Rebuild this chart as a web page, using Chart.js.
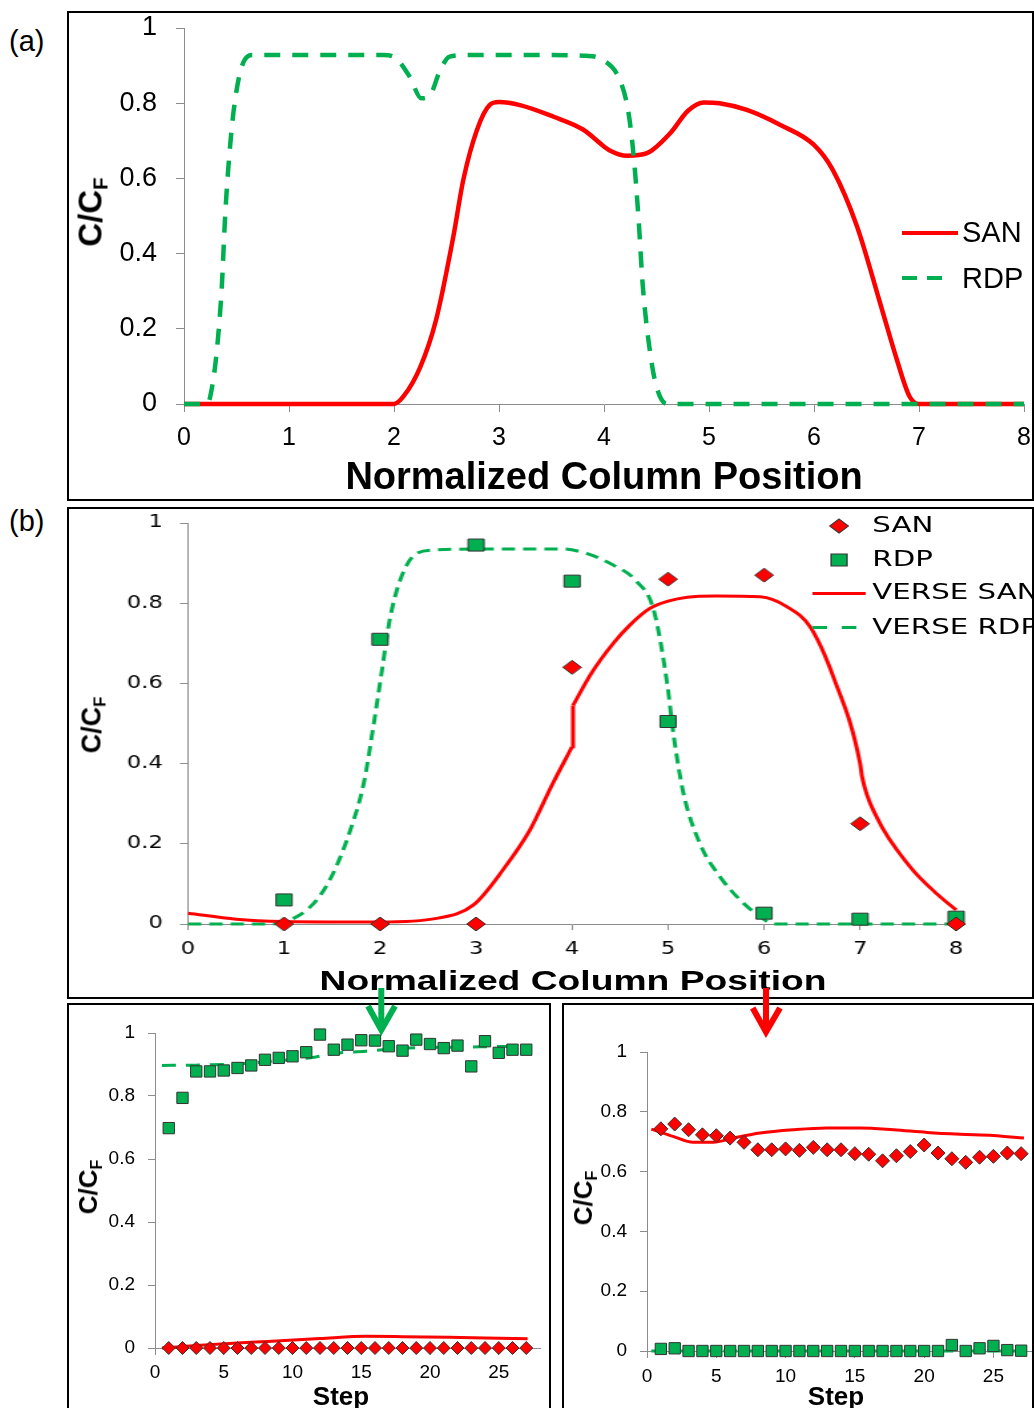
<!DOCTYPE html>
<html lang="en">
<head>
<meta charset="UTF-8">
<title>SAN / RDP column profiles</title>
<script src="https://cdn.jsdelivr.net/npm/chart.js"></script>
<style>
  html, body { margin: 0; padding: 0; background: #fff; }
  body { width: 1034px; height: 1408px; position: relative; overflow: hidden; font-family: "Liberation Sans", Arial, sans-serif; color: #000; }
  .box { position: absolute; border: 2px solid #000; box-sizing: border-box; overflow: hidden; }
  .box canvas { position: absolute; left: 0; top: 0; }
  /* panel (b) is drawn narrow and widened */
  .stretch { position: absolute; left: 0; top: 0; height: 100%; transform-origin: 0 0; transform: scaleX(1.33); }
  .tag { position: absolute; font-size: 29px; line-height: 1; }
  .ytitle { position: absolute; font-weight: bold; white-space: nowrap; line-height: 1; transform: translate(-50%, -50%) rotate(-90deg); }
  .ytitle sub { font-size: 0.62em; vertical-align: baseline; position: relative; top: 0.28em; }
  .xtitle { position: absolute; font-weight: bold; white-space: nowrap; line-height: 1; transform: translate(-50%, -50%); }
  .leg { position: absolute; white-space: nowrap; line-height: 1; }
  svg.sw { position: absolute; overflow: visible; }
</style>
</head>
<body>

<div class="tag" style="left:9px;top:27px">(a)</div>
<div class="tag" style="left:9px;top:507px">(b)</div>

<!-- (a) -->
<div class="box" style="left:67px;top:11px;width:967px;height:490px">
  <canvas id="chartA" width="963" height="486"></canvas>
</div>
<div class="ytitle" style="left:90px;top:212px;font-size:33px">C/C<sub>F</sub></div>
<div class="xtitle" style="left:604px;top:476px;font-size:38px">Normalized Column Position</div>
<svg class="sw" style="left:902px;top:231px" width="56" height="4"><line x1="0" y1="2" x2="56" y2="2" stroke="#ff0000" stroke-width="4"/></svg>
<svg class="sw" style="left:902px;top:276px" width="56" height="4"><line x1="0" y1="2" x2="44" y2="2" stroke="#00b050" stroke-width="4" stroke-dasharray="15 10"/></svg>
<div class="leg" style="left:962px;top:218px;font-size:29px">SAN</div>
<div class="leg" style="left:962px;top:264px;font-size:29px">RDP</div>

<!-- (b) -->
<div class="box" style="left:67px;top:507px;width:967px;height:492px">
  <div class="stretch" style="width:724px">
    <canvas id="chartB" width="724" height="488"></canvas>
    <div class="xtitle" style="left:379px;top:472px;font-size:28px">Normalized Column Position</div>
    <svg class="sw" style="left:572px;top:10px" width="14" height="14"><polygon points="7,0 14,7 7,14 0,7" fill="#ff0000" stroke="#333" stroke-width="1"/></svg>
    <svg class="sw" style="left:573px;top:45px" width="12" height="12"><rect x="0" y="0" width="12" height="12" fill="#00b050" stroke="#333" stroke-width="1"/></svg>
    <svg class="sw" style="left:559px;top:83px" width="40" height="3"><line x1="0" y1="1.5" x2="40" y2="1.5" stroke="#ff0000" stroke-width="3"/></svg>
    <svg class="sw" style="left:559px;top:117px" width="40" height="3"><line x1="0" y1="1.5" x2="33" y2="1.5" stroke="#00b050" stroke-width="3" stroke-dasharray="11 11"/></svg>
    <div class="leg" style="left:604px;top:5px;font-size:22px;font-family:'DejaVu Sans',sans-serif">SAN</div>
    <div class="leg" style="left:604px;top:39px;font-size:22px;font-family:'DejaVu Sans',sans-serif">RDP</div>
    <div class="leg" style="left:604px;top:72px;font-size:22px;font-family:'DejaVu Sans',sans-serif">VERSE SAN</div>
    <div class="leg" style="left:604px;top:107px;font-size:22px;font-family:'DejaVu Sans',sans-serif">VERSE RDP</div>
  </div>
</div>
<div class="ytitle" style="left:92px;top:725px;font-size:27px">C/C<sub>F</sub></div>

<!-- step histories -->
<div class="box" style="left:67px;top:1003px;width:484px;height:420px">
  <canvas id="chartL" width="480" height="403"></canvas>
</div>
<div class="box" style="left:562px;top:1003px;width:472px;height:420px">
  <canvas id="chartR" width="480" height="403"></canvas>
</div>
<div class="ytitle" style="left:88px;top:1187px;font-size:26px">C/C<sub>F</sub></div>
<div class="ytitle" style="left:583px;top:1198px;font-size:26px">C/C<sub>F</sub></div>
<div class="xtitle" style="left:341px;top:1396px;font-size:26px">Step</div>
<div class="xtitle" style="left:836px;top:1396px;font-size:26px">Step</div>

<svg style="position:absolute;left:0;top:0" width="1034" height="1408">
  <g fill="none" stroke-width="6" stroke-linejoin="miter">
    <line x1="381.3" y1="988" x2="381.3" y2="1029" stroke="#00b050"/>
    <polyline points="368,1006 381.3,1030 395,1006" stroke="#00b050"/>
    <line x1="766" y1="988" x2="766" y2="1031" stroke="#ff0000"/>
    <polyline points="752.7,1008 766,1032 780,1008" stroke="#ff0000"/>
  </g>
</svg>

<script>
const GREEN = '#00b050';
const RED = '#ff0000';
const AXIS = '#8c8c8c';

// (a) concentration profiles along the column
const sanAX = [0, 2.0, 2.09, 2.25, 2.4, 2.565, 2.66, 2.79, 2.91, 3.0, 3.2, 3.52, 3.8, 4.0, 4.05, 4.22, 4.41, 4.63, 4.8, 4.95, 5.1, 5.36, 5.68, 6.0, 6.18, 6.41, 6.63, 6.79, 6.91, 7.0, 8.0];
const sanAY = [0, 0, 0.02, 0.098, 0.223, 0.445, 0.596, 0.729, 0.795, 0.803, 0.795, 0.764, 0.73, 0.685, 0.675, 0.66, 0.667, 0.72, 0.78, 0.802, 0.80, 0.782, 0.742, 0.689, 0.622, 0.472, 0.268, 0.117, 0.02, 0, 0];
const rdpAX = [0, 0.22, 0.25, 0.31, 0.36, 0.39, 0.42, 0.47, 0.55, 0.66, 1.0, 1.9, 2.02, 2.15, 2.26, 2.34, 2.44, 2.53, 2.7, 3.5, 3.83, 3.99, 4.15, 4.23, 4.28, 4.33, 4.37, 4.44, 4.5, 4.6, 8.0];
const rdpAY = [0, 0, 0.02, 0.135, 0.312, 0.49, 0.62, 0.773, 0.897, 0.928, 0.928, 0.928, 0.919, 0.87, 0.813, 0.82, 0.888, 0.924, 0.928, 0.928, 0.926, 0.915, 0.862, 0.78, 0.667, 0.489, 0.312, 0.135, 0.046, 0, 0];

// (b) measured points and VERSE predictions
const posB = [1, 2, 3, 4, 5, 6, 7, 8];
const sanB = [0, 0, 0, 0.64, 0.86, 0.87, 0.25, 0];
const rdpB = [0.06, 0.71, 0.945, 0.855, 0.505, 0.027, 0.012, 0.017];
const verseSanX = [0, 0.5, 1.0, 1.5, 2.0, 2.59, 2.97, 3.28, 3.56, 3.8, 4.0, 4.01, 4.2, 4.43, 4.6, 4.81, 5.0, 5.2, 5.5, 5.96, 6.24, 6.48, 6.72, 7.0, 7.02, 7.17, 7.52, 7.8, 8.0];
const verseSanY = [0.027, 0.012, 0.006, 0.005, 0.005, 0.014, 0.047, 0.135, 0.234, 0.351, 0.442, 0.545, 0.625, 0.70, 0.745, 0.787, 0.805, 0.815, 0.818, 0.816, 0.791, 0.741, 0.617, 0.40, 0.367, 0.268, 0.143, 0.075, 0.035];
const verseSanJump = 11; // first point above the jump at x = 4
const verseRdpX = [0, 0.85, 1.13, 1.34, 1.51, 1.69, 1.83, 1.93, 2.02, 2.10, 2.21, 2.38, 2.59, 3.0, 3.5, 3.91, 4.15, 4.43, 4.67, 4.85, 4.99, 5.06, 5.16, 5.33, 5.54, 5.75, 5.96, 6.1, 8.0];
const verseRdpY = [0, 0, 0.018, 0.06, 0.126, 0.234, 0.351, 0.492, 0.633, 0.758, 0.858, 0.924, 0.933, 0.935, 0.935, 0.935, 0.924, 0.895, 0.855, 0.783, 0.60, 0.467, 0.326, 0.201, 0.118, 0.06, 0.018, 0, 0];

// step histories at the two marked positions
const steps = [1, 2, 3, 4, 5, 6, 7, 8, 9, 10, 11, 12, 13, 14, 15, 16, 17, 18, 19, 20, 21, 22, 23, 24, 25, 26, 27];
const rdpL = [0.698, 0.794, 0.878, 0.878, 0.881, 0.889, 0.897, 0.915, 0.921, 0.926, 0.939, 0.995, 0.947, 0.963, 0.977, 0.976, 0.958, 0.944, 0.979, 0.965, 0.952, 0.960, 0.894, 0.974, 0.937, 0.947, 0.947];
const sanL = [0, 0, 0, 0, 0, 0, 0, 0, 0, 0, 0, 0, 0, 0, 0, 0, 0, 0, 0, 0, 0, 0, 0, 0, 0, 0, 0];
const rdpLineLX = [0.5, 3, 6, 9, 11.7, 13, 15.3, 18, 22.3, 25, 27];
const rdpLineLY = [0.897, 0.898, 0.902, 0.912, 0.924, 0.935, 0.942, 0.952, 0.955, 0.957, 0.958];
const sanLineLX = [0.5, 3, 6, 8.2, 12, 15.4, 18, 21.4, 24, 27.1];
const sanLineLY = [0.0, 0.008, 0.016, 0.021, 0.03, 0.037, 0.036, 0.034, 0.032, 0.029];

const sanR = [0.743, 0.759, 0.740, 0.723, 0.720, 0.712, 0.698, 0.673, 0.673, 0.676, 0.671, 0.681, 0.673, 0.673, 0.660, 0.658, 0.636, 0.653, 0.667, 0.689, 0.662, 0.643, 0.631, 0.648, 0.651, 0.662, 0.660];
const rdpR = [0.007, 0.009, 0, 0, 0, 0, 0, 0, 0, 0, 0, 0, 0, 0, 0, 0, 0, 0, 0, 0, 0, 0.02, 0, 0.009, 0.017, 0.003, 0.001];
const sanLineRX = [0.31, 1.88, 3.33, 4.78, 6.22, 8.15, 10.55, 12.96, 15.4, 17.8, 20.2, 22.6, 25.0, 27.2];
const sanLineRY = [0.742, 0.718, 0.698, 0.698, 0.712, 0.729, 0.740, 0.746, 0.746, 0.740, 0.731, 0.725, 0.721, 0.712];
const rdpLineRX = [0.31, 27.2];
const rdpLineRY = [0, 0];

// axis ticks
const fracTicks = [0, 0.2, 0.4, 0.6, 0.8, 1];
const posTicks = [0, 1, 2, 3, 4, 5, 6, 7, 8];
const stepTicks = [0, 5, 10, 15, 20, 25];

const zip = (xs, ys) => xs.map((x, i) => ({ x: x, y: ys[i] }));

const line = (data, color, width, dash, smooth) => ({
  data: data, showLine: true, borderColor: color, borderWidth: width, borderDash: dash || [],
  pointRadius: 0, cubicInterpolationMode: smooth === false ? 'default' : 'monotone', tension: 0,
  fill: false, clip: false
});

const marks = (data, color, style, r) => ({
  data: data, showLine: false, pointStyle: style, pointRadius: r,
  backgroundColor: color, borderColor: '#333', borderWidth: 1, clip: false
});

// fixed-size axes; label overflow is left to the padding set per chart
function fixBox(s, key, size) {
  s[key] = size;
  s.paddingTop = 0; s.paddingBottom = 0; s.paddingLeft = 0; s.paddingRight = 0;
}

function axes(c) {
  const grid = { drawOnChartArea: false, drawTicks: true, tickLength: c.tick, color: AXIS, lineWidth: 1 };
  return {
    x: {
      type: 'linear', min: 0, max: c.xMax, grid: grid, border: { color: AXIS, width: 1 },
      afterBuildTicks: s => { s.ticks = c.xTicks.map(v => ({ value: v })); },
      afterFit: s => fixBox(s, 'height', c.xHeight),
      ticks: { color: '#000', font: c.xFont, padding: c.xPad, maxRotation: 0, autoSkip: false, callback: v => String(v) }
    },
    y: {
      type: 'linear', min: 0, max: 1, grid: grid, border: { color: AXIS, width: 1 },
      afterBuildTicks: s => { s.ticks = fracTicks.map(v => ({ value: v })); },
      afterFit: s => fixBox(s, 'width', c.yWidth),
      ticks: { color: '#000', font: c.yFont, padding: c.yPad, autoSkip: false, callback: v => String(v) }
    }
  };
}

function draw(id, datasets, scales, padding) {
  new Chart(document.getElementById(id), {
    type: 'scatter',
    data: { datasets: datasets },
    options: {
      responsive: false, animation: false, devicePixelRatio: 1, events: [],
      layout: { padding: padding },
      scales: scales,
      plugins: { legend: { display: false }, tooltip: { enabled: false } }
    }
  });
}

const arial = (size) => ({ family: '"Liberation Sans", Arial, sans-serif', size: size, lineHeight: 1 });
const dejavu = (size) => ({ family: '"DejaVu Sans", Verdana, sans-serif', size: size, lineHeight: 1 });

draw('chartA', [
  line(zip(rdpAX, rdpAY), GREEN, 4.5, [16, 12]),
  line(zip(sanAX, sanAY), RED, 4.5)
], axes({ xMax: 8, xTicks: posTicks, tick: 8, xHeight: 95, yWidth: 115, xFont: arial(25), yFont: arial(27), xPad: 14, yPad: 19 }),
{ left: 0, top: 15, right: 8, bottom: 0 });

// VERSE SAN has a sharp jump at x = 4: draw it as three pieces
const verseSan = zip(verseSanX, verseSanY);
draw('chartB', [
  marks(zip(posB, sanB), RED, 'rectRot', 7),
  marks(zip(posB, rdpB), GREEN, 'rect', 8.5),
  line(verseSan.slice(0, verseSanJump), RED, 3),
  line(verseSan.slice(verseSanJump - 1, verseSanJump + 1), RED, 3, null, false),
  line(verseSan.slice(verseSanJump), RED, 3),
  line(zip(verseRdpX, verseRdpY), GREEN, 3, [10, 6])
], axes({ xMax: 8, xTicks: posTicks, tick: 6, xHeight: 73, yWidth: 89.5, xFont: dejavu(17), yFont: dejavu(17), xPad: 11, yPad: 13 }),
{ left: 0, top: 14, right: 57, bottom: 0 });

draw('chartL', [
  marks(zip(steps, rdpL), GREEN, 'rect', 8),
  marks(zip(steps, sanL), RED, 'rectRot', 6.5),
  line(zip(rdpLineLX, rdpLineLY), GREEN, 3, [14, 10]),
  line(zip(sanLineLX, sanLineLY), RED, 3)
], axes({ xMax: 28, xTicks: stepTicks, tick: 7, xHeight: 60, yWidth: 86, xFont: arial(19), yFont: arial(19), xPad: 8, yPad: 13 }),
{ left: 0, top: 28, right: 6.5, bottom: 0 });

draw('chartR', [
  marks(zip(steps, sanR), RED, 'rectRot', 7),
  marks(zip(steps, rdpR), GREEN, 'rect', 8),
  line(zip(sanLineRX, sanLineRY), RED, 3),
  line(zip(rdpLineRX, rdpLineRY), GREEN, 3, [14, 10])
], axes({ xMax: 28, xTicks: stepTicks, tick: 7, xHeight: 57, yWidth: 83, xFont: arial(19), yFont: arial(19), xPad: 9, yPad: 13 }),
{ left: 0, top: 47, right: 9, bottom: 0 });
</script>
</body>
</html>
